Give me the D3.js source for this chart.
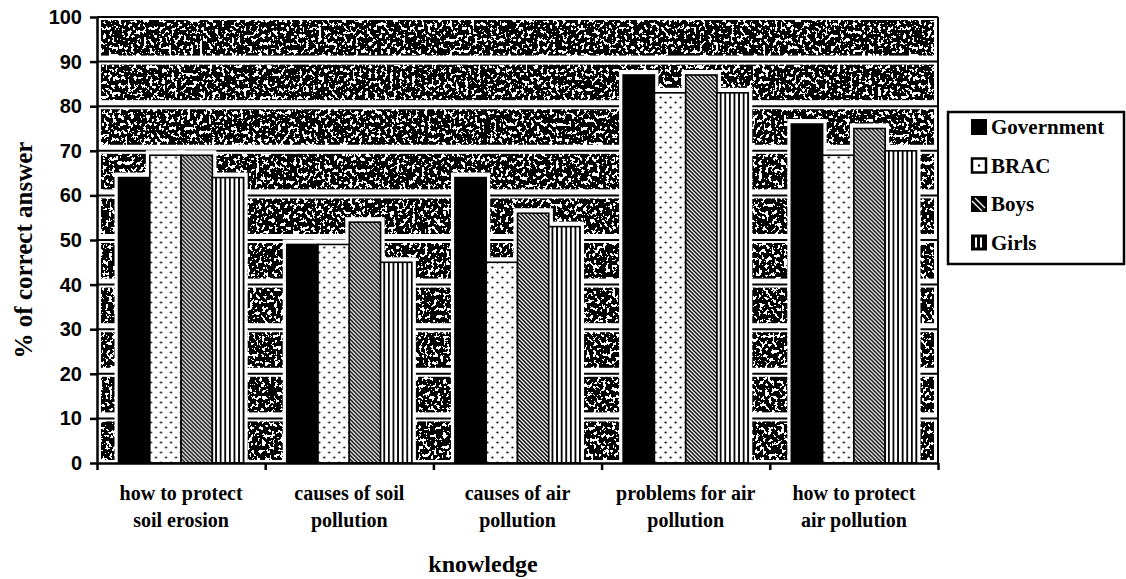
<!DOCTYPE html>
<html>
<head>
<meta charset="utf-8">
<script src="https://cdn.jsdelivr.net/npm/d3@7"></script>
<style>
  html, body { margin: 0; padding: 0; background: #fff; }
  svg { display: block; }
</style>
</head>
<body>
<svg id="chart" width="1126" height="579"></svg>
<script>
// ---- data ----
const categories = ["how to protect soil erosion", "causes of soil pollution", "causes of air pollution", "problems for air pollution", "how to protect air pollution"];
const categoryLines = [["how to protect", "soil erosion"], ["causes of soil", "pollution"], ["causes of air", "pollution"], ["problems for air", "pollution"], ["how to protect", "air pollution"]];
const seriesNames = ["Government", "BRAC", "Boys", "Girls"];
const government = [64, 49, 64, 87, 76];
const brac = [69, 49, 45, 83, 69];
const boys = [69, 54, 56, 87, 75];
const girls = [64, 45, 53, 83, 70];
const yTicks = [0, 10, 20, 30, 40, 50, 60, 70, 80, 90, 100];
const yTitle = "% of correct answer";
const xTitle = "knowledge";

const seriesValues = [government, brac, boys, girls];

// ---- layout ----
const svg = d3.select("#chart");
const L = 97, R = 938, T = 17, B = 463;

const y = d3.scaleLinear().domain([0, 100]).range([B, T]);
const x0 = d3.scaleBand().domain(categories).range([L, R]).paddingInner(0.256).paddingOuter(0.128);
const x1 = d3.scaleBand().domain(seriesNames).range([0, x0.bandwidth()]);
const xEdge = d3.scaleLinear().domain([0, categories.length]).range([L, R]);

// ---- defs: patterns & texture ----
const defs = svg.append("defs");

const tex = defs.append("filter").attr("id", "grain")
  .attr("filterUnits", "userSpaceOnUse")
  .attr("x", L).attr("y", T).attr("width", R - L).attr("height", B - T)
  .attr("color-interpolation-filters", "sRGB");
tex.append("feTurbulence").attr("type", "fractalNoise").attr("baseFrequency", "0.32 0.26")
  .attr("numOctaves", 3).attr("seed", 11).attr("result", "noise");
tex.append("feColorMatrix").attr("in", "noise").attr("type", "matrix")
  .attr("values", "0 0 0 0 0  0 0 0 0 0  0 0 0 0 0  1 0 0 0 0").attr("result", "a");
const ct = tex.append("feComponentTransfer").attr("in", "a").attr("result", "bin");
ct.append("feFuncA").attr("type", "discrete").attr("tableValues", "0 0 0 0 0 1 1 1 1 1 1 1");
tex.append("feFlood").attr("flood-color", "#000").attr("result", "blk");
tex.append("feComposite").attr("in", "blk").attr("in2", "bin").attr("operator", "in");

// dots (BRAC)
const pDots = defs.append("pattern").attr("id", "pDots").attr("patternUnits", "userSpaceOnUse")
  .attr("width", 10).attr("height", 10);
pDots.append("rect").attr("width", 10).attr("height", 10).attr("fill", "#fff");
pDots.append("circle").attr("cx", 2.5).attr("cy", 2.5).attr("r", 1.1).attr("fill", "#000");
pDots.append("circle").attr("cx", 7.5).attr("cy", 7.5).attr("r", 1.1).attr("fill", "#000");

// diagonal (Boys)
const pDiag = defs.append("pattern").attr("id", "pDiag").attr("patternUnits", "userSpaceOnUse")
  .attr("width", 4).attr("height", 4);
pDiag.append("rect").attr("width", 4).attr("height", 4).attr("fill", "#fff");
pDiag.append("path").attr("d", "M-1,-1L5,5M-1,3L1,5M3,-1L5,1")
  .attr("stroke", "#000").attr("stroke-width", 1.5);

// vertical (Girls)
const pVert = defs.append("pattern").attr("id", "pVert").attr("patternUnits", "userSpaceOnUse")
  .attr("width", 4.6).attr("height", 10);
pVert.append("rect").attr("width", 4.6).attr("height", 10).attr("fill", "#fff");
pVert.append("rect").attr("x", 0).attr("width", 1.8).attr("height", 10).attr("fill", "#000");

const fills = ["#000", "url(#pDots)", "url(#pDiag)", "url(#pVert)"];

// ---- plot background texture ----
svg.append("rect").attr("x", L).attr("y", T).attr("width", R - L).attr("height", B - T)
  .attr("fill", "#000").attr("filter", "url(#grain)");

// white margins near frame
svg.append("rect").attr("x", L).attr("y", T).attr("width", 4).attr("height", B - T).attr("fill", "#fff");
svg.append("rect").attr("x", R - 4).attr("y", T).attr("width", 4).attr("height", B - T).attr("fill", "#fff");
svg.append("rect").attr("x", L).attr("y", B - 3).attr("width", R - L).attr("height", 3).attr("fill", "#fff");

// gridlines: white band + black line
const grid = svg.append("g");
grid.selectAll("rect.band").data(yTicks.filter(d => d > 0)).join("rect")
  .attr("class", "band")
  .attr("x", L).attr("width", R - L)
  .attr("y", d => y(d) - 6).attr("height", 9)
  .attr("fill", "#fff");
grid.selectAll("line").data(yTicks.filter(d => d > 0)).join("line")
  .attr("x1", L).attr("x2", R)
  .attr("y1", d => y(d)).attr("y2", d => y(d))
  .attr("stroke", "#000").attr("stroke-width", 2);

// right frame
svg.append("line").attr("x1", R).attr("x2", R).attr("y1", T).attr("y2", B)
  .attr("stroke", "#000").attr("stroke-width", 2);

// ---- bars ----
const groups = svg.append("g").selectAll("g").data(categories).join("g")
  .attr("transform", d => `translate(${x0(d)},0)`);

const barData = (c, ci) => seriesNames.map((s, si) => ({ s, si, v: seriesValues[si][ci] }));

// halos
groups.selectAll("rect.halo").data((c, ci) => barData(c, ci)).join("rect")
  .attr("class", "halo")
  .attr("x", d => x1(d.s) - 4).attr("width", x1.bandwidth() + 8)
  .attr("y", d => y(d.v) - 5).attr("height", d => B - y(d.v) + 5)
  .attr("fill", "#fff");

groups.selectAll("rect.bar").data((c, ci) => barData(c, ci)).join("rect")
  .attr("class", "bar")
  .attr("x", d => x1(d.s)).attr("width", x1.bandwidth())
  .attr("y", d => y(d.v)).attr("height", d => B - y(d.v))
  .attr("fill", d => fills[d.si])
  .attr("stroke", "#000").attr("stroke-width", 1.6);

// ---- axes ----
const yAxis = svg.append("g").attr("transform", `translate(${L},0)`)
  .call(d3.axisLeft(y).tickValues(yTicks).tickSize(7).tickPadding(8).tickSizeOuter(0));
yAxis.select(".domain").attr("stroke-width", 2.5);
yAxis.selectAll(".tick line").attr("stroke-width", 2.5);
yAxis.selectAll(".tick text")
  .attr("font-family", "'Liberation Sans', Arial, sans-serif")
  .attr("font-weight", "bold").attr("font-size", 20).attr("fill", "#000");

const xAxis = svg.append("g").attr("transform", `translate(0,${B})`)
  .call(d3.axisBottom(xEdge).tickValues(d3.range(0, categories.length + 1)).tickFormat("").tickSize(7).tickSizeOuter(0));
xAxis.select(".domain").attr("stroke-width", 2.5);
xAxis.selectAll(".tick line").attr("stroke-width", 2.5);

// category labels
const labG = svg.append("g")
  .attr("font-family", "'Liberation Serif', 'Times New Roman', serif")
  .attr("font-weight", "bold").attr("font-size", 20).attr("text-anchor", "middle");
categories.forEach((c, i) => {
  const cx = x0(c) + x0.bandwidth() / 2;
  const t = labG.append("text").attr("x", cx).attr("y", 500);
  categoryLines[i].forEach((ln, k) => {
    t.append("tspan").attr("x", cx).attr("dy", k === 0 ? 0 : 27).text(ln);
  });
});

// titles
svg.append("text").attr("x", 483).attr("y", 572)
  .attr("text-anchor", "middle")
  .attr("font-family", "'Liberation Serif', 'Times New Roman', serif")
  .attr("font-weight", "bold").attr("font-size", 24).text(xTitle);

svg.append("text").attr("transform", `translate(32,250) rotate(-90)`)
  .attr("text-anchor", "middle")
  .attr("font-family", "'Liberation Serif', 'Times New Roman', serif")
  .attr("font-weight", "bold").attr("font-size", 25).text(yTitle);

// ---- legend ----
const lg = svg.append("g");
lg.append("rect").attr("x", 948).attr("y", 112).attr("width", 176).attr("height", 152)
  .attr("fill", "#fff").attr("stroke", "#000").attr("stroke-width", 2.5);
seriesNames.forEach((s, i) => {
  const cy = 127 + i * 38.5;
  const g = lg.append("g");
  if (i === 0) {
    g.append("rect").attr("x", 971).attr("y", cy - 8).attr("width", 16).attr("height", 16).attr("fill", "#000");
  } else if (i === 1) {
    g.append("rect").attr("x", 972).attr("y", cy - 7).attr("width", 14).attr("height", 14)
      .attr("fill", "#fff").attr("stroke", "#000").attr("stroke-width", 2.5);
    g.append("circle").attr("cx", 979).attr("cy", cy).attr("r", 1.2).attr("fill", "#000");
  } else if (i === 2) {
    g.append("rect").attr("x", 971).attr("y", cy - 8).attr("width", 16).attr("height", 16).attr("fill", "#000");
    g.append("path").attr("d", `M${975},${cy - 6}L${985},${cy + 4}M${972},${cy - 3}L${982},${cy + 7}`)
      .attr("stroke", "#fff").attr("stroke-width", 1.3);
  } else {
    g.append("rect").attr("x", 971).attr("y", cy - 8).attr("width", 16).attr("height", 16).attr("fill", "#000");
    g.append("rect").attr("x", 975).attr("y", cy - 5).attr("width", 2).attr("height", 10).attr("fill", "#fff");
    g.append("rect").attr("x", 980).attr("y", cy - 5).attr("width", 2).attr("height", 10).attr("fill", "#fff");
  }
  g.append("text").attr("x", 991).attr("y", cy + 7)
    .attr("font-family", "'Liberation Serif', 'Times New Roman', serif")
    .attr("font-weight", "bold").attr("font-size", 21).text(s);
});
</script>
</body>
</html>
